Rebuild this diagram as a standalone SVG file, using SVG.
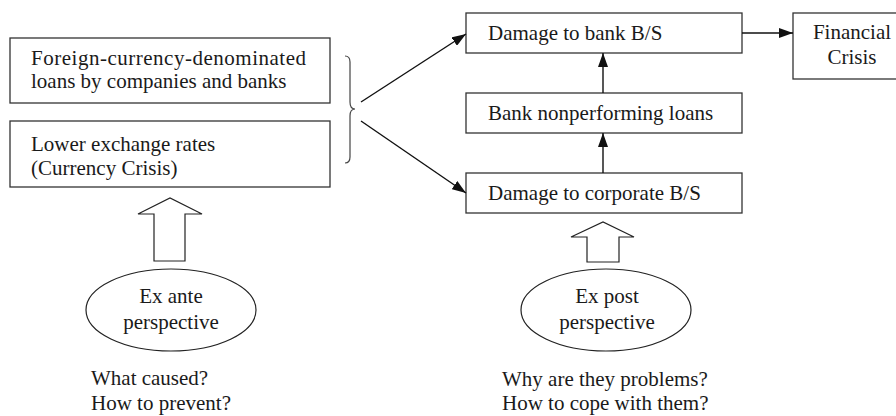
<svg xmlns="http://www.w3.org/2000/svg" width="896" height="416" viewBox="0 0 896 416">
<defs>
<style>
text{font-size:21px;fill:#1a1a1a}
.box{fill:#fff;stroke:#333;stroke-width:1.3}
.conn{stroke:#111;stroke-width:1.4;fill:none}
.hollow{fill:#fff;stroke:#222;stroke-width:1.2}
.mid{text-anchor:middle}
</style>
<marker id="ah" viewBox="0 0 14 10" refX="14" refY="5" markerWidth="14" markerHeight="10" markerUnits="userSpaceOnUse" orient="auto">
<path d="M0,0 L14,5 L0,10 z" fill="#111"/>
</marker>
</defs>
<rect width="896" height="416" fill="#fff"/>
<g font-family="Liberation Serif">
<g id="foreign-loans">
<rect class="box" x="10" y="38" width="320" height="65"/>
<text x="31" y="65" textLength="275" lengthAdjust="spacing">Foreign-currency-denominated</text>
<text x="31" y="88">loans by companies and banks</text>
</g>
<g id="lower-rates">
<rect class="box" x="10" y="121" width="320" height="66"/>
<text x="31" y="151">Lower exchange rates</text>
<text x="31" y="175">(Currency Crisis)</text>
</g>
<g id="brace">
<path d="M345,56 Q350,56 350,62 L350,102 Q350,109 355,109 Q350,109 350,116 L350,157 Q350,163 345,163" fill="none" stroke="#444" stroke-width="1.2"/>
</g>
<g id="bank-bs">
<rect class="box" x="466" y="13" width="276" height="40"/>
<text x="488" y="40">Damage to bank B/S</text>
</g>
<g id="bank-npl">
<rect class="box" x="466" y="93" width="276" height="40"/>
<text x="488" y="120">Bank nonperforming loans</text>
</g>
<g id="corp-bs">
<rect class="box" x="466" y="173" width="276" height="40"/>
<text x="488" y="200">Damage to corporate B/S</text>
</g>
<g id="financial-crisis">
<rect class="box" x="793" y="13" width="118" height="66"/>
<text class="mid" x="852" y="39">Financial</text>
<text class="mid" x="852" y="64">Crisis</text>
</g>
<g id="ex-ante">
<path class="hollow" d="M154,261 L154,214 L138,214 L170,198 L202,214 L185,214 L185,261 Z"/>
<ellipse cx="171" cy="310" rx="85" ry="41" fill="#fff" stroke="#222" stroke-width="1.2"/>
<text class="mid" x="171" y="303">Ex ante</text>
<text class="mid" x="171" y="329">perspective</text>
<text x="91" y="385">What caused?</text>
<text x="91" y="410">How to prevent?</text>
</g>
<g id="ex-post">
<path class="hollow" d="M587,262 L587,237 L571,237 L603,222 L634,237 L619,237 L619,262 Z"/>
<ellipse cx="606" cy="310" rx="85" ry="41" fill="#fff" stroke="#222" stroke-width="1.2"/>
<text class="mid" x="607" y="303">Ex post</text>
<text class="mid" x="607" y="329">perspective</text>
<text x="502" y="386">Why are they problems?</text>
<text x="502" y="410">How to cope with them?</text>
</g>
</g>
<g id="connectors">
<line class="conn" x1="361" y1="102" x2="466" y2="34" marker-end="url(#ah)"/>
<line class="conn" x1="361" y1="121" x2="466" y2="193" marker-end="url(#ah)"/>
<line class="conn" x1="742" y1="33" x2="793" y2="33" marker-end="url(#ah)"/>
<line class="conn" x1="603" y1="173" x2="603" y2="133" marker-end="url(#ah)"/>
<line class="conn" x1="603" y1="93" x2="603" y2="53" marker-end="url(#ah)"/>
</g>
</svg>
